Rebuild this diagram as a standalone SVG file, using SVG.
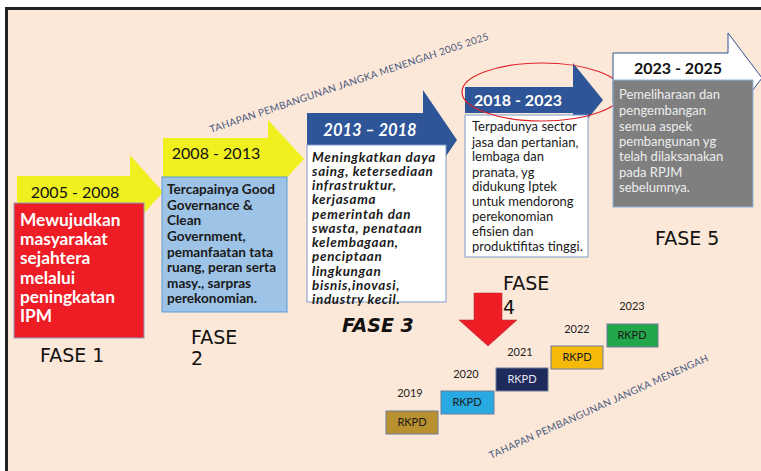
<svg xmlns="http://www.w3.org/2000/svg" width="761" height="471" viewBox="0 0 761 471">
<defs>
<style>
.bg{fill:#FCE8D8}
.t{font-family:Lato,"Liberation Sans",sans-serif}
.yr{font-size:16px;fill:#111}
.fase{font-family:"DejaVu Sans","Liberation Sans",sans-serif;font-size:19px;fill:#111}
.diag{font-family:Lato,"Liberation Sans",sans-serif;font-size:10px;fill:#4A5A80;letter-spacing:0.3px}
.rk{fill:#1a1a1a;font-size:11px;text-anchor:middle}
.ry{fill:#222;font-size:11px;text-anchor:middle}
.rb{stroke:#6C7A99;stroke-width:1}
</style>
</defs>
<rect x="0" y="0" width="761" height="471" fill="#fff"/>
<rect x="6.5" y="8.5" width="760" height="470" class="bg" stroke="#222" stroke-width="3"/>

<g id="diag-top">
<text class="diag" transform="translate(211,133) rotate(-18.6)">TAHAPAN  PEMBANGUNAN JANGKA MENENGAH 2005 2025</text>
</g>

<g id="fase1">
<polygon points="17,176 130,176 130,155 163,192 130,229 130,208 17,208" fill="#F0F01E"/>
<text class="t yr" x="75" y="198" text-anchor="middle">2005 - 2008</text>
<rect x="14" y="203" width="130" height="135" fill="#EE1C24" stroke="#8E9CC4" stroke-width="1"/>
<text class="t" font-size="17.3" font-weight="bold" fill="#fff">
<tspan x="20" y="226">Mewujudkan</tspan>
<tspan x="20" y="245">masyarakat</tspan>
<tspan x="20" y="264">sejahtera</tspan>
<tspan x="20" y="284">melalui</tspan>
<tspan x="20" y="303">peningkatan</tspan>
<tspan x="20" y="322">IPM</tspan>
</text>
<text class="fase" x="40" y="362">FASE 1</text>
</g>

<g id="fase2">
<polygon points="163,138 268,138 268,120 304,159 268,198 268,182 163,182" fill="#F0F01E"/>
<text class="t yr" x="216" y="159" text-anchor="middle">2008 - 2013</text>
<rect x="162" y="177" width="125" height="135" fill="#9DC3E6" stroke="#5B9BD5" stroke-width="1"/>
<text class="t" font-size="13.6" font-weight="bold" fill="#1a1a1a">
<tspan x="167" y="194">Tercapainya Good</tspan>
<tspan x="167" y="210">Governance &amp;</tspan>
<tspan x="167" y="225">Clean</tspan>
<tspan x="167" y="241">Government,</tspan>
<tspan x="167" y="257">pemanfaatan tata</tspan>
<tspan x="167" y="272">ruang, peran serta</tspan>
<tspan x="167" y="288">masy., sarpras</tspan>
<tspan x="167" y="303">perekonomian.</tspan>
</text>
<text class="fase" x="191" y="344">FASE</text>
<text class="fase" x="191" y="365">2</text>
</g>

<g id="fase3">
<polygon points="307,113 423,113 423,90 457,140 423,190 423,167 307,167" fill="#2E5597"/>
<text class="t" x="370" y="136" text-anchor="middle" font-size="16.5" font-weight="bold" font-style="italic" fill="#fff">2013 – 2018</text>
<rect x="307" y="145" width="139" height="157" fill="#fff" stroke="#7F9CC9" stroke-width="1"/>
<text class="t" font-size="13.4" font-weight="bold" font-style="italic" fill="#1a1a1a" letter-spacing="0.7">
<tspan x="312" y="162">Meningkatkan daya</tspan>
<tspan x="312" y="176">saing, ketersediaan</tspan>
<tspan x="312" y="190">infrastruktur,</tspan>
<tspan x="312" y="204">kerjasama</tspan>
<tspan x="312" y="219">pemerintah dan</tspan>
<tspan x="312" y="233">swasta, penataan</tspan>
<tspan x="312" y="247">kelembagaan,</tspan>
<tspan x="312" y="261">penciptaan</tspan>
<tspan x="312" y="276">lingkungan</tspan>
<tspan x="312" y="290">bisnis,inovasi,</tspan>
<tspan x="312" y="304">industry kecil.</tspan>
</text>
<text x="342" y="332" font-family="DejaVu Sans,sans-serif" font-size="19" font-weight="bold" font-style="italic" fill="#111">FASE 3</text>
</g>

<g id="fase4">
<polygon points="465,87 573,87 573,63 603,100 573,137 573,113 465,113" fill="#2E5597"/>
<text class="t" x="518" y="106" text-anchor="middle" font-size="16" font-weight="bold" fill="#fff">2018 - 2023</text>
<rect x="465" y="115" width="123" height="142" fill="#fff" stroke="#7F9CC9" stroke-width="1"/>
<text class="t" font-size="13" fill="#1a1a1a">
<tspan x="472" y="131">Terpadunya sector</tspan>
<tspan x="472" y="147">jasa dan pertanian,</tspan>
<tspan x="472" y="161">lembaga dan</tspan>
<tspan x="472" y="177">pranata, yg</tspan>
<tspan x="472" y="191">didukung Iptek</tspan>
<tspan x="472" y="206">untuk mendorong</tspan>
<tspan x="472" y="221">perekonomian</tspan>
<tspan x="472" y="236">efisien dan</tspan>
<tspan x="472" y="251">produktifitas tinggi.</tspan>
</text>
<ellipse cx="542" cy="92" rx="80" ry="29" fill="none" stroke="#E0222A" stroke-width="1.2"/>
<text class="fase" x="503" y="290">FASE</text>
<text class="fase" x="503" y="314">4</text>
<polygon points="474,293 502,293 502,320 517,320 488,346 459,320 474,320" fill="#EE1C24" stroke="#B0363A" stroke-width="0.6"/>
</g>

<g id="fase5">
<polygon points="613,53 728,53 728,33 762,78 728,123 728,103 613,103" fill="#fff" stroke="#2F4F8F" stroke-width="1"/>
<text class="t" x="678" y="74" text-anchor="middle" font-size="16" font-weight="bold" fill="#111">2023 - 2025</text>
<rect x="613" y="80" width="140" height="127" fill="#7F7F7F" stroke="#8FB4E0" stroke-width="1"/>
<text class="t" font-size="13" fill="#EDEDED">
<tspan x="619" y="99">Pemeliharaan dan</tspan>
<tspan x="619" y="115">pengembangan</tspan>
<tspan x="619" y="131">semua aspek</tspan>
<tspan x="619" y="146">pembangunan yg</tspan>
<tspan x="619" y="161">telah dilaksanakan</tspan>
<tspan x="619" y="177">pada RPJM</tspan>
<tspan x="619" y="192">sebelumnya.</tspan>
</text>
<text class="fase" x="655" y="245">FASE 5</text>
</g>

<g id="rkpd2019">
<text class="t ry" x="410" y="397">2019</text>
<rect class="rb" x="386" y="411" width="52" height="23" fill="#B8902F"/>
<text class="t rk" x="412" y="426">RKPD</text>
</g>
<g id="rkpd2020">
<text class="t ry" x="466" y="378">2020</text>
<rect class="rb" x="441" y="391" width="53" height="23" fill="#29A9E1"/>
<text class="t rk" x="467" y="406">RKPD</text>
</g>
<g id="rkpd2021">
<text class="t ry" x="520" y="356">2021</text>
<rect class="rb" x="496" y="368" width="52" height="23" fill="#1F2A5C"/>
<text class="t rk" x="522" y="383" style="fill:#E6E6F0">RKPD</text>
</g>
<g id="rkpd2022">
<text class="t ry" x="577" y="333">2022</text>
<rect class="rb" x="551" y="346" width="52" height="23" fill="#F5B90A"/>
<text class="t rk" x="577" y="361">RKPD</text>
</g>
<g id="rkpd2023">
<text class="t ry" x="632" y="310">2023</text>
<rect class="rb" x="607" y="324" width="51" height="23" fill="#22A84A"/>
<text class="t rk" x="632" y="339">RKPD</text>
</g>

<g id="diag-bottom">
<text class="diag" transform="translate(491,459) rotate(-24.3)">TAHAPAN  PEMBANGUNAN JANGKA MENENGAH</text>
</g>
<g id="connectors"></g>
</svg>
